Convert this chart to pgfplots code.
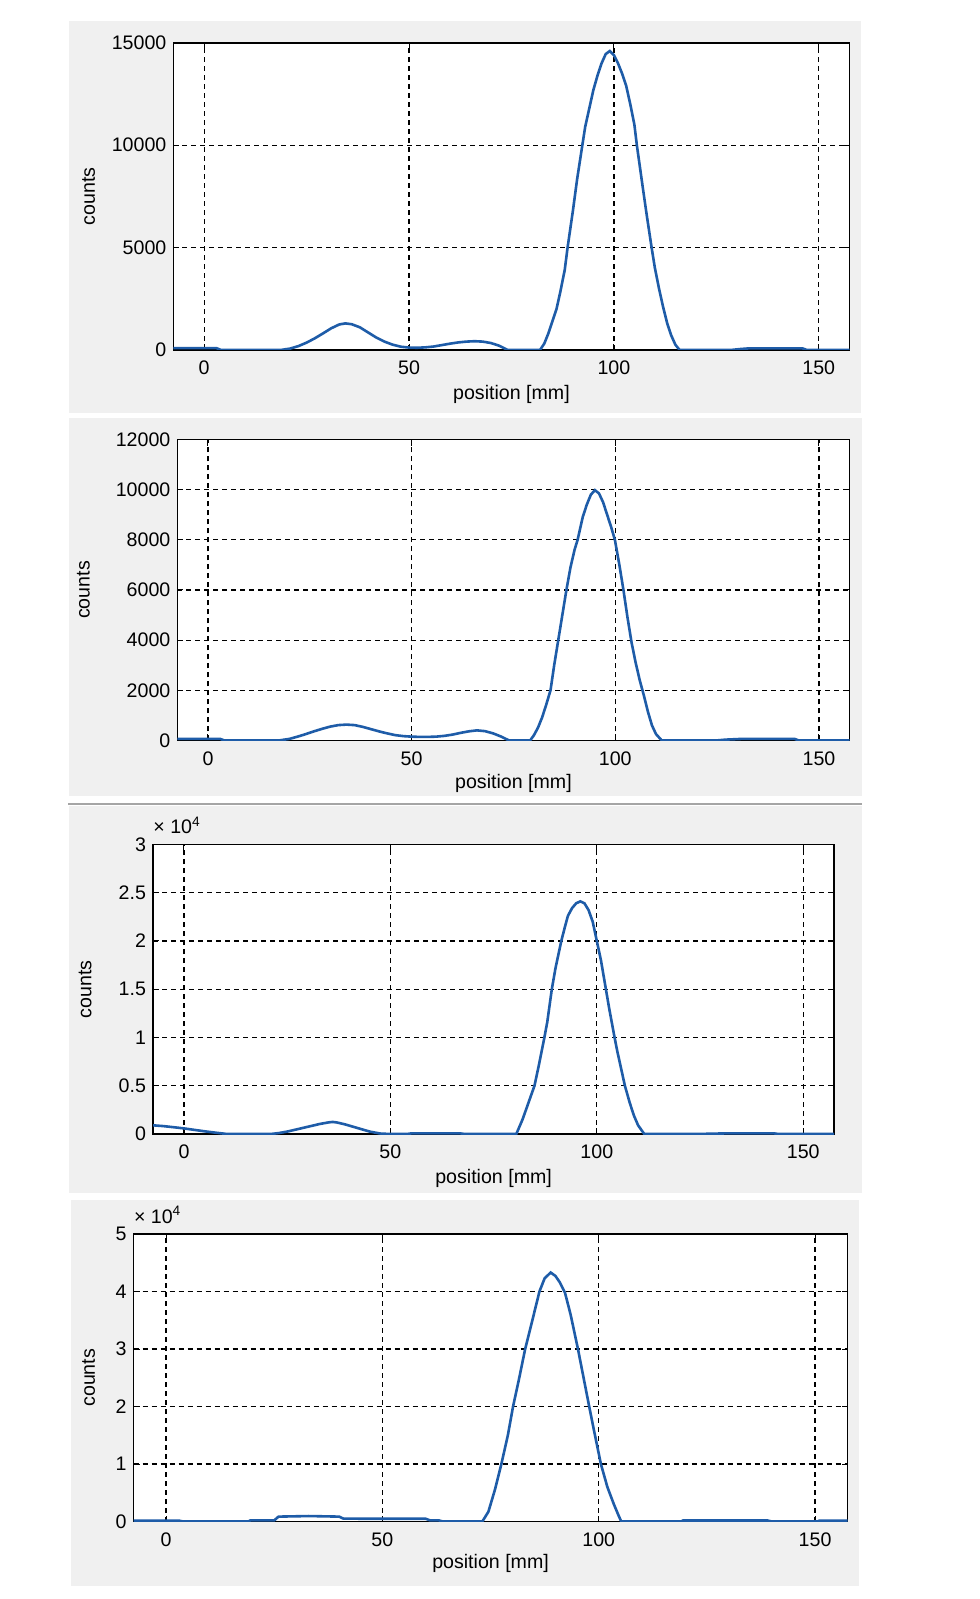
\documentclass[border=0pt]{standalone}
\usepackage{fontspec}
\setmainfont{Liberation Sans}
\usepackage{pgfplots}
\pgfplotsset{compat=1.18}
\definecolor{panelgray}{RGB}{240,240,240}
\definecolor{sepgray}{RGB}{165,165,165}
\definecolor{curveblue}{RGB}{30,92,168}
\pgfplotsset{
 curvestyle/.style={color=curveblue, line width=1.3pt, mark=none},
 mstyle/.style={
  scale only axis,
  anchor=north west,
  axis background/.style={fill=white},
  axis line style={black, line width=0.75pt},
  grid=major,
  major grid style={black, line width=0.6pt, dash pattern=on 2.5pt off 2pt},
  tick align=inside,
  major tick length=3pt,
  tick style={black, line width=0.5pt},
  scaled y ticks=false,
  scaled x ticks=false,
  xtick={0,50,100,150},
  xticklabels={0,50,100,150},
  xmin=-7.5, xmax=157.5,
  ymin=0,
  tick label style={font=\fontsize{9.8}{11}\selectfont},
  xticklabel style={yshift=-2pt},
  label style={font=\fontsize{9.8}{11}\selectfont},
  xlabel={position [mm]},
  ylabel={counts},
  /pgf/number format/assume math mode=true,
 }
}
\begin{document}
\begin{tikzpicture}
\path[use as bounding box, fill=white] (0pt,0pt) rectangle (489.5pt,-799.5pt);
\fill[panelgray] (34.65pt,-10.3pt) rectangle (430.7pt,-206.4pt);
\fill[panelgray] (34.65pt,-208.9pt) rectangle (430.85pt,-398.2pt);
\draw[sepgray, line width=1pt] (34pt,-402.2pt) -- (430.85pt,-402.2pt);
\fill[panelgray] (34.65pt,-403.2pt) rectangle (430.85pt,-596.3pt);
\fill[panelgray] (35.5pt,-600pt) rectangle (429.5pt,-792.8pt);

% Panel 1
\begin{axis}[mstyle, at={(86.7pt,-21.4pt)}, width=338.05pt, height=153.5pt,
  ymax=15000, ytick={0,5000,10000,15000}, yticklabels={0,5000,10000,15000},
  ylabel style={at={(axis description cs:-0.1252,0.5)}, anchor=center},
  xlabel style={at={(axis description cs:0.5,-0.1466)}, anchor=center}]
\addplot[curvestyle] coordinates {
(-7.5,80)(0,80)(3,80)(4,0)(19,0)(21,60)(23,180)(25,350)(27,560)(29,800)(31,1050)(33,1240)(34.5,1290)(36,1250)(38,1100)(40,850)(42,600)(44,400)(46,250)(48,150)(50,110)(52,100)(54,120)(56,160)(58,230)(60,300)(62,360)(64,400)(66,420)(68,400)(70,330)(72,200)(74,0)(82,0)(83,300)(84,800)(85,1400)(86,2000)(87,2900)(88,3900)(88.7,5000)(90,6800)(91,8300)(92.3,10000)(93,10900)(94,11800)(95,12700)(96,13400)(97,14000)(98,14450)(99,14600)(100,14400)(101,14000)(102,13500)(103,12900)(104,12000)(105,11000)(105.6,10000)(107,8000)(108,6600)(109.2,5000)(110,4000)(111,3000)(112,2100)(113,1300)(114,700)(115,250)(116,0)(129,0)(131,40)(133,70)(146,70)(147,0)(157.5,0)
};
\end{axis}

% Panel 2
\begin{axis}[mstyle, at={(88.7pt,-219.75pt)}, width=336.05pt, height=150.45pt,
  ymax=12000, ytick={0,2000,4000,6000,8000,10000,12000}, yticklabels={0,2000,4000,6000,8000,10000,12000},
  ylabel style={at={(axis description cs:-0.1399,0.5)}, anchor=center},
  xlabel style={at={(axis description cs:0.5,-0.1429)}, anchor=center}]
\addplot[curvestyle] coordinates {
(-7.5,60)(3,60)(4,0)(17.5,0)(20,60)(22,150)(24,250)(26,360)(28,460)(30,550)(32,610)(34,630)(36,610)(38,540)(40,450)(42,360)(44,280)(46,210)(48,170)(50,150)(52,140)(54,140)(56,150)(58,180)(60,230)(62,300)(64,360)(66,400)(68,370)(70,280)(72,150)(73.9,0)(79.1,0)(80,200)(81,500)(82,900)(83,1400)(84.1,2000)(85,3000)(86,4000)(87,5000)(88,6000)(89,6900)(90,7600)(90.75,8000)(92,8900)(93,9400)(94,9800)(95,9980)(96,9850)(97,9500)(98,9000)(99,8500)(99.9,8000)(101,7000)(102,6000)(103,4900)(104,3900)(105,3100)(106,2400)(107,1800)(108,1150)(109,600)(110,250)(111.4,0)(125,0)(127,30)(131,60)(144,60)(145,0)(157.5,0)
};
\end{axis}

% Panel 3
\begin{axis}[mstyle, at={(76.5pt,-422.2pt)}, width=340.6pt, height=144.8pt,
  ymax=30000, ytick={0,5000,10000,15000,20000,25000,30000}, yticklabels={0,0.5,1,1.5,2,2.5,3},
  ylabel style={at={(axis description cs:-0.0998,0.5)}, anchor=center},
  xlabel style={at={(axis description cs:0.5,-0.152)}, anchor=center},
  after end axis/.code={\node[anchor=base west, inner sep=0pt, font=\fontsize{9.8}{11}\selectfont] at ([yshift=5.5pt]rel axis cs:0,1) {× 10\textsuperscript{4}};}]
\addplot[curvestyle] coordinates {
(-7.5,900)(-5,820)(-2,680)(0,580)(2,460)(5,280)(8,120)(10.5,0)(21,0)(23,100)(25,250)(27,450)(29,650)(31,850)(33,1050)(35,1200)(36,1250)(37,1200)(39,1000)(41,750)(43,500)(45,250)(47.5,50)(50,0)(54,0)(55,60)(67,60)(68,0)(80.5,0)(82,1500)(83,2700)(84.9,5000)(86,7200)(87.3,10000)(88,11600)(89.1,15000)(90,17200)(91.4,20000)(92.3,21500)(93,22600)(94,23400)(95,23900)(96,24100)(97,23900)(98,23200)(99,22000)(100,20000)(101,18000)(102.2,15000)(103,13000)(104.3,10000)(105,8500)(106.8,5000)(108,3200)(109,1900)(110,900)(111.5,0)(125,0)(127,30)(131,60)(143,60)(144,0)(157.5,0)
};
\end{axis}

% Panel 4
\begin{axis}[mstyle, at={(66.8pt,-617pt)}, width=356.95pt, height=143.75pt,
  ymax=50000, ytick={0,10000,20000,30000,40000,50000}, yticklabels={0,1,2,3,4,5},
  ylabel style={at={(axis description cs:-0.063,0.5)}, anchor=center},
  xlabel style={at={(axis description cs:0.5,-0.146)}, anchor=center},
  after end axis/.code={\node[anchor=base west, inner sep=0pt, font=\fontsize{9.8}{11}\selectfont] at ([yshift=5.5pt]rel axis cs:0,1) {× 10\textsuperscript{4}};}]
\addplot[curvestyle] coordinates {
(-7.5,150)(3,150)(4,0)(19,0)(19.5,200)(25,200)(26,850)(33,950)(40,850)(41,500)(47,480)(53,480)(60,480)(61,200)(63,200)(64,0)(73.1,0)(74.5,1700)(76,5500)(77.5,10000)(79,15000)(80.2,20000)(81.5,24500)(83,30000)(84.5,34500)(86.3,40000)(87.5,42300)(88.9,43300)(90,42700)(91,41600)(92.2,39800)(93.5,36000)(95.2,30000)(96.5,25000)(97.8,20000)(99,15500)(100.5,10000)(102,6000)(103.5,3000)(104.5,1200)(105.2,0)(119,0)(119.5,180)(139,180)(140,0)(150.5,0)(151,150)(157.5,150)
};
\end{axis}
\end{tikzpicture}
\end{document}
